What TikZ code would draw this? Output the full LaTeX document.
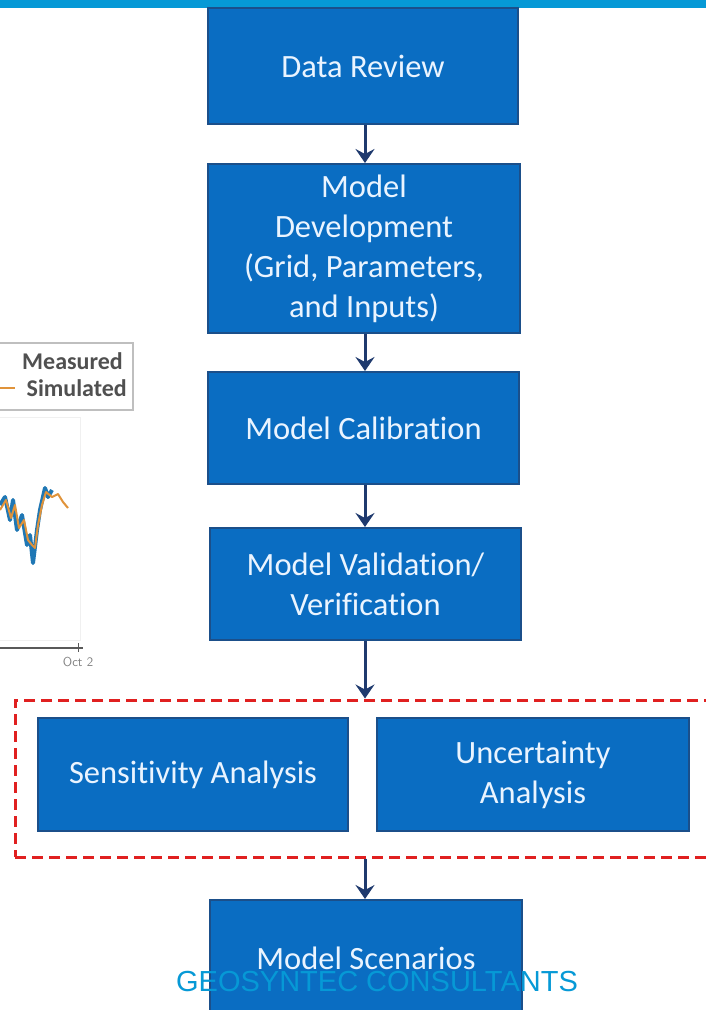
\documentclass[tikz,border=0pt]{standalone}
\usepackage{fontspec}
\setmainfont[Ligatures={NoCommon,NoRare,NoDiscretionary}]{Carlito}
\newfontfamily\wmfont{Liberation Sans}
\usetikzlibrary{arrows.meta}
\definecolor{boxblue}{HTML}{0A6DC2}
\definecolor{boxedge}{HTML}{1B4F8A}
\definecolor{boxtext}{HTML}{EAF4FF}
\definecolor{navy}{HTML}{1F3A6E}
\definecolor{topbar}{HTML}{0699D6}
\definecolor{dashred}{HTML}{E02020}
\definecolor{measblue}{HTML}{1F77B4}
\definecolor{simorange}{HTML}{E0933A}
\definecolor{legtext}{HTML}{505050}
\tikzset{
  flowbox/.style={draw=boxedge, line width=2pt, fill=boxblue, text=boxtext,
    align=center, inner sep=0pt, font=\fontsize{32.5}{40}\selectfont},
  flowarrow/.style={draw=navy, line width=3pt, -{Stealth[length=14pt,width=19pt,inset=5pt]}},
  groupbox/.style={draw=dashred, line width=3pt, dash pattern=on 11pt off 6pt, inner sep=0pt},
  legendtext/.style={text=legtext, font=\bfseries\fontsize{24}{28}\selectfont, inner sep=0pt},
}
\begin{document}
\begin{tikzpicture}[x=1pt,y=-1pt]
\useasboundingbox (0,0) rectangle (706,1010);
\fill[white] (0,0) rectangle (706,1010);

% left chart fragment
\draw[gray!50, line width=1.5pt] (-5,343) rectangle (133,410);
\node[legendtext, anchor=east] (meas) at (123,361) {Measured};
\node[legendtext, anchor=east] (sim) at (127,388) {Simulated};
\draw[simorange, line width=2pt] (0,388) -- (15,388);
\draw[gray!12, line width=1pt] (-2,417) rectangle (80,640);
\draw[measblue, line width=4pt, line join=round]
  (0,505) -- (5,497) -- (10,520) -- (13,500) -- (17,530) -- (22,515) -- (27,545)
  -- (30,535) -- (33,563) -- (37,530) -- (40,510) -- (45,488) -- (48,497) -- (52,490);
\draw[simorange, line width=2pt, line join=round]
  (0,510) -- (6,500) -- (11,518) -- (15,505) -- (19,528) -- (24,520) -- (28,540)
  -- (32,545) -- (35,548) -- (38,525) -- (42,505) -- (46,492) -- (52,497) -- (58,494)
  -- (63,502) -- (68,508);
\draw[gray!70!black, line width=1.5pt] (0,648) -- (83,648);
\draw[gray!70!black, line width=1pt] (78,643) -- (78,652);
\node[text=gray, font=\sffamily\fontsize{13}{15}\selectfont, inner sep=0pt] (oct) at (78,662) {Oct 2};

% top bar
\fill[topbar] (0,0) rectangle (706,8);

% flow boxes
\node[flowbox, minimum width=310pt, minimum height=116pt] (review) at (363,66) {Data Review};
\node[flowbox, minimum width=312pt, minimum height=169pt] (develop) at (364,248.5)
  {Model\\Development\\(Grid, Parameters,\\and Inputs)};
\node[flowbox, minimum width=311pt, minimum height=112pt] (calib) at (363.5,428) {Model Calibration};
\node[flowbox, minimum width=311pt, minimum height=112pt] (valid) at (365.5,584)
  {Model Validation/\\Verification};
\node[groupbox, minimum width=705pt, minimum height=157pt] (grp) at (367.5,778.5) {};
\node[flowbox, minimum width=310pt, minimum height=113pt] (sens) at (193,774.5) {Sensitivity Analysis};
\node[flowbox, minimum width=312pt, minimum height=113pt] (unc) at (533,774.5) {Uncertainty\\Analysis};
\node[flowbox, minimum width=312pt, minimum height=116pt] (scen) at (366,958) {Model Scenarios};

% connectors
\coordinate (a1) at (365,0);
\draw[flowarrow] (review.south -| a1) -- (develop.north -| a1);
\draw[flowarrow] (develop.south -| a1) -- (calib.north -| a1);
\draw[flowarrow] (calib.south -| a1) -- (valid.north -| a1);
\draw[flowarrow] (valid.south -| a1) -- (grp.north -| a1);
\draw[flowarrow] (grp.south -| a1) -- (scen.north -| a1);

% watermark
\node[text=topbar, font=\wmfont\fontsize{29}{32}\selectfont, inner sep=0pt] (wm) at (377,982) {GEOSYNTEC CONSULTANTS};
\end{tikzpicture}
\end{document}
